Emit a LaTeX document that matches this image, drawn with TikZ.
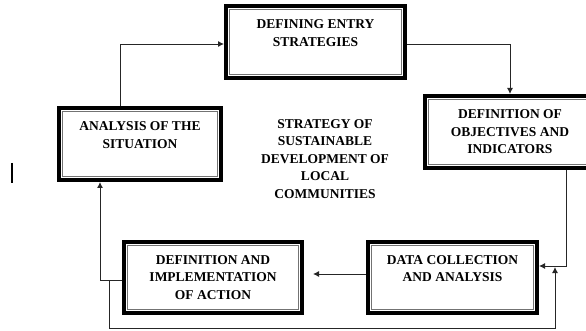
\documentclass[tikz,border=0pt]{standalone}
\usepackage{fontspec}
\setmainfont{Liberation Serif}
\usetikzlibrary{arrows.meta}

\begin{document}
\begin{tikzpicture}[
                x=1pt, y=-1pt,
                stagebox/.style={draw, line width=4pt, minimum height=72pt, align=center, inner sep=0pt,
                    font=\fontsize{13.5}{17.5}\selectfont\bfseries,
                    path picture={\draw[black!55, line width=0.8pt]
                        ([shift={(3.5pt,-3.5pt)}]path picture bounding box.north west) rectangle
                        ([shift={(-3.5pt,3.5pt)}]path picture bounding box.south east);}},
                link/.style={black!85, line width=0.9pt, -{Latex[length=6pt,width=6pt]}}
            ]
                \useasboundingbox (0,0) rectangle (586,331);
                \node[stagebox, minimum width=179pt] (entry) at (315.5,42) {DEFINING ENTRY\\STRATEGIES\\\mbox{}};
                \node[stagebox, minimum width=162pt] (analysis) at (140,144) {ANALYSIS OF THE\\SITUATION\\\mbox{}};
                \node[stagebox, minimum width=170pt] (objectives) at (510,132) {DEFINITION OF\\OBJECTIVES AND\\INDICATORS};
                \node[stagebox, minimum width=178pt, minimum height=71pt] (action) at (213,277.5) {DEFINITION AND\\IMPLEMENTATION\\OF ACTION};
                \node[stagebox, minimum width=169pt, minimum height=71pt] (data) at (452.5,277.5) {DATA COLLECTION\\AND ANALYSIS\\\mbox{}};
                \node[font=\fontsize{13.5}{17.5}\selectfont\bfseries, align=center] (strategy) at (325,159)
                    {STRATEGY OF\\SUSTAINABLE\\DEVELOPMENT OF\\LOCAL\\COMMUNITIES};
                % the cycle
                \draw[link] ([xshift=-20pt]analysis.north) |- ([yshift=-2pt]entry.west);
                \draw[link] ([yshift=-2pt]entry.east) -| (objectives.north);
                \draw[link] ([xshift=56pt]objectives.south) |- ([yshift=11.5pt]data.east);
                \draw[link] ([yshift=3.5pt]data.west) -- ([xshift=9pt,yshift=3.5pt]action.east);
                \draw[link] ([yshift=-2.5pt]action.west) -| ([xshift=-40pt]analysis.south);
                \draw[link] ([xshift=-13pt,yshift=-2.5pt]action.west) -- ++(0pt,-48pt) -| ([xshift=16pt,yshift=10.5pt]data.east);
                \draw[line width=1.8pt] (12,163) -- (12,183);
            \end{tikzpicture}
\end{document}
